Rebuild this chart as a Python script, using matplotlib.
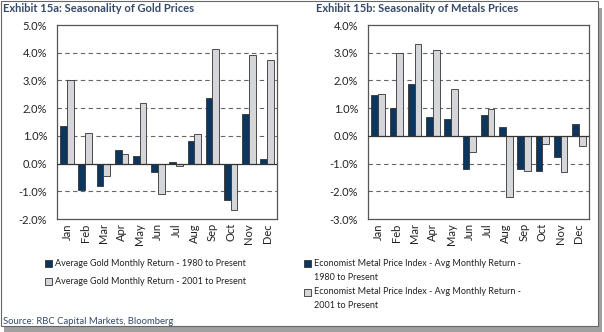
import matplotlib
matplotlib.use("Agg")
import matplotlib.pyplot as plt
import numpy as np
from matplotlib.patches import Rectangle
from matplotlib.ticker import FuncFormatter

plt.rcParams["font.family"] = ["Lato", "DejaVu Sans"]

months = ["Jan", "Feb", "Mar", "Apr", "May", "Jun", "Jul", "Aug", "Sep", "Oct", "Nov", "Dec"]
gold_1980 = [1.35, -0.95, -0.80, 0.50, 0.28, -0.30, 0.07, 0.80, 2.35, -1.30, 1.80, 0.18]
gold_2001 = [3.00, 1.10, -0.45, 0.35, 2.20, -1.10, -0.07, 1.08, 4.15, -1.68, 3.90, 3.72]
metal_1980 = [1.48, 1.02, 1.88, 0.68, 0.62, -1.20, 0.75, 0.32, -1.20, -1.25, -0.75, 0.42]
metal_2001 = [1.50, 3.00, 3.32, 3.08, 1.68, -0.58, 0.96, -2.20, -1.25, -0.30, -1.32, -0.35]

dark = "#0d365e"
light = "#d4d6da"
edge = "#333333"
title_c = "#34496a"

W, H = 604, 332
fig = plt.figure(figsize=(W / 100, H / 100), dpi=100)
fig.patch.set_facecolor("white")

# outer frame with shadow
fig.add_artist(Rectangle((4 / W, 0), 598 / W, 1 - 8 / H, transform=fig.transFigure,
                         facecolor="#a0a0a0", edgecolor="none", zorder=-2))
fig.add_artist(Rectangle((1 / W, 6 / H), 597 / W, 1 - 7 / H, transform=fig.transFigure,
                         facecolor="white", edgecolor="#666666", lw=0.8, zorder=-1))

pct = FuncFormatter(lambda v, p: f"{v:.1f}%")


def panel(rect, s1, s2, ylim, ticks):
    ax = fig.add_axes(rect)
    x = np.arange(len(months))
    bw = 0.37
    ax.bar(x - bw / 2, s1, bw, color=dark, edgecolor=edge, lw=0.6, zorder=3)
    ax.bar(x + bw / 2, s2, bw, color=light, edgecolor=edge, lw=0.6, zorder=3)
    ax.set_xlim(-0.55, 11.55)
    ax.set_ylim(*ylim)
    ax.set_yticks(ticks)
    ax.yaxis.set_major_formatter(pct)
    for t in ticks:
        if t != 0 and ylim[0] < t < ylim[1]:
            ax.axhline(t, color="#666666", lw=0.8, ls=(0, (4, 3)), zorder=1)
    ax.axhline(0, color="#333333", lw=0.9, zorder=4)
    ax.set_xticks(x)
    ax.set_xticklabels(months, rotation=90, fontsize=8, color="#222222")
    ax.tick_params(axis="y", labelsize=8, colors="#222222", length=0, pad=7)
    ax.tick_params(axis="x", length=0, pad=3)
    for sp in ax.spines.values():
        sp.set_color("#555555")
        sp.set_linewidth(0.9)
    return ax


panel([57 / W, 1 - 219 / H, 220 / W, 194 / H], gold_1980, gold_2001, (-2, 5), np.arange(-2, 6, 1))
panel([368 / W, 1 - 219 / H, 221 / W, 194 / H], metal_1980, metal_2001, (-3, 4), np.arange(-3, 5, 1))

fig.text(3 / W, 1 - 9 / H, "Exhibit 15a: Seasonality of Gold Prices", fontsize=8,
         fontweight="bold", color=title_c, va="center", ha="left")
fig.text(316 / W, 1 - 9 / H, "Exhibit 15b: Seasonality of Metals Prices", fontsize=8,
         fontweight="bold", color=title_c, va="center", ha="left")


def legend_item(xp, yp, color, text):
    fig.add_artist(Rectangle((xp / W, 1 - (yp + 4) / H), 7 / W, 7 / H, transform=fig.transFigure,
                             facecolor=color, edgecolor=edge, lw=0.6))
    fig.text((xp + 10) / W, 1 - yp / H, text, fontsize=6.5, color="#222222",
             va="center", ha="left")


legend_item(45, 263, dark, "Average Gold Monthly Return - 1980 to Present")
legend_item(45, 281, light, "Average Gold Monthly Return - 2001 to Present")
legend_item(304, 263, dark, "Economist Metal Price Index - Avg Monthly Return -")
fig.text(314 / W, 1 - 277 / H, "1980 to Present", fontsize=6.5, color="#222222", va="center")
legend_item(304, 292, light, "Economist Metal Price Index - Avg Monthly Return -")
fig.text(314 / W, 1 - 306 / H, "2001 to Present", fontsize=6.5, color="#222222", va="center")

fig.text(3 / W, 1 - 321 / H, "Source: RBC Capital Markets, Bloomberg", fontsize=6.8,
         color="#34496a", va="center", ha="left")

fig.savefig("out.png", dpi=100, facecolor="white")
